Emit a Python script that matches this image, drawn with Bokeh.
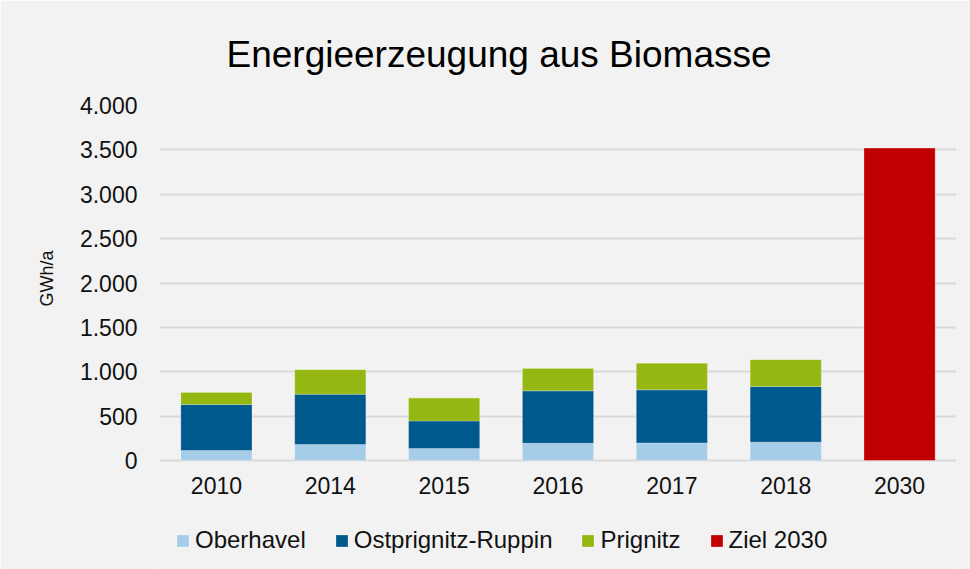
from bokeh.plotting import figure
from bokeh.models import Range1d, Legend, FixedTicker, Title
from bokeh.embed import file_html
from bokeh.resources import INLINE

# ---- data ----
years = ["2010", "2014", "2015", "2016", "2017", "2018", "2030"]
oberhavel = [113, 180, 135, 195, 198, 206, 0]
ostprignitz_ruppin = [518, 567, 311, 590, 598, 628, 0]
prignitz = [139, 279, 260, 255, 302, 305, 0]
ziel_2030 = [0, 0, 0, 0, 0, 0, 3520]
series_names = ["Oberhavel", "Ostprignitz-Ruppin", "Prignitz", "Ziel 2030"]
series_colors = ["#A6CDE8", "#00598C", "#95B711", "#C00000"]
y_ticks = [0, 500, 1000, 1500, 2000, 2500, 3000, 3500, 4000]
y_tick_labels = ["0", "500", "1.000", "1.500", "2.000", "2.500", "3.000", "3.500", "4.000"]
title_text = "Energieerzeugung aus Biomasse"
y_label = "GWh/a"

FONT = "Liberation Sans"
BG = "#F2F2F2"

# ---- layout geometry (pixels) ----
W, H = 970, 569
LEFT, RIGHT, TOP = 159, 14, 105
PLOT_H = 355                    # pixel height of the 0..4000 band
FRAME_H = H - TOP               # frame extends to bottom so the legend is not clipped
Y_MAX = 4000
Y_MIN = -Y_MAX * (FRAME_H - PLOT_H) / PLOT_H

source = dict(year=years, s0=oberhavel, s1=ostprignitz_ruppin, s2=prignitz, s3=ziel_2030)

p = figure(
    x_range=years,
    y_range=Range1d(Y_MIN, Y_MAX),
    width=W, height=H,
    min_border_left=LEFT, min_border_right=RIGHT, min_border_top=TOP, min_border_bottom=0,
    output_backend="svg", toolbar_location=None,
    background_fill_color=BG, border_fill_color=BG,
)
p.outline_line_color = None

renderers = p.vbar_stack(
    ["s0", "s1", "s2", "s3"], x="year", width=0.625, source=source,
    color=series_colors, line_color="white", line_alpha=0.25, line_width=1,
)

# title
p.title.text = title_text
p.title.align = "left"
p.title.offset = 67
p.title.vertical_align = "top"
p.title.standoff = 58
p.title.text_font = FONT
p.title.text_font_size = "37px"
p.title.text_font_style = "normal"
p.title.text_color = "#000000"

# axes
ticker = FixedTicker(ticks=y_ticks)
p.yaxis.ticker = ticker
p.ygrid.ticker = ticker
p.yaxis.major_label_overrides = {t: l for t, l in zip(y_ticks, y_tick_labels)}
for ax in (p.xaxis[0], p.yaxis[0]):
    ax.axis_line_color = None
    ax.major_tick_line_color = None
    ax.minor_tick_line_color = None
    ax.major_tick_in = 0
    ax.major_tick_out = 0
    ax.minor_tick_in = 0
    ax.minor_tick_out = 0
    ax.major_label_text_font = FONT
    ax.major_label_text_font_size = "23px"
    ax.major_label_text_color = "#111111"
p.yaxis.major_label_standoff = 22
p.xaxis.major_label_standoff = 16
p.xaxis.fixed_location = 0

# y-axis title (left side panel, positioned along the 0..4000 band)
ytitle = Title(
    text=y_label, align="left", offset=263, vertical_align="middle", standoff=38,
    text_font=FONT, text_font_size="18px", text_font_style="normal", text_color="#111111",
)
p.add_layout(ytitle, "left")

p.xgrid.grid_line_color = None
p.ygrid.grid_line_color = "#D9D9D9"
p.ygrid.grid_line_width = 2

legend = Legend(
    items=[(n, [r]) for n, r in zip(series_names, renderers)],
    location=(16, 15), orientation="horizontal",
    glyph_width=15, glyph_height=15, label_standoff=5, spacing=28,
    padding=0, margin=0, border_line_color=None, background_fill_alpha=0,
    label_text_font=FONT, label_text_font_size="24px", label_text_color="#111111",
)
p.add_layout(legend, "center")

open("out.html", "w").write(file_html(p, INLINE))
